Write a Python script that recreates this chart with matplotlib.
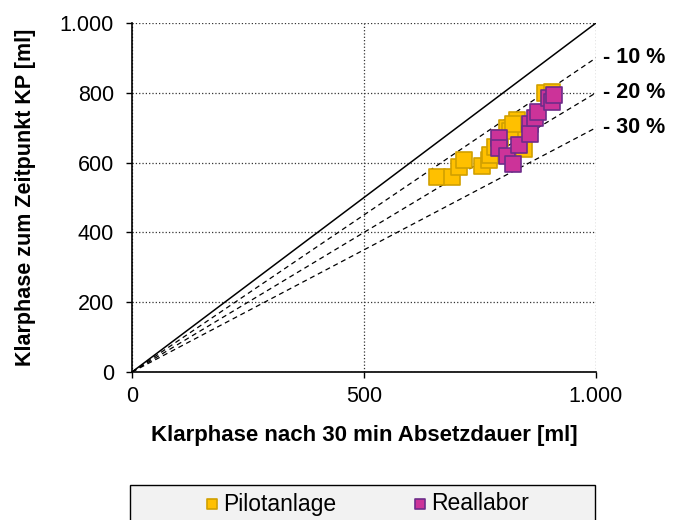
import numpy as np
import matplotlib.pyplot as plt
from matplotlib.patches import Rectangle

plt.rcParams['font.family'] = ['Liberation Sans', 'DejaVu Sans']

# Pilotanlage (x: Klarphase nach 30 min, y: Klarphase zum Zeitpunkt KP)
pilot_x = [657, 689, 704, 715, 754, 769, 771, 783, 794, 808, 830, 833, 837, 837,
           815, 822, 845, 891, 905]
pilot_y = [560, 560, 587, 607, 590, 607, 622, 646, 670, 698, 722, 703, 655, 679,
           690, 710, 640, 799, 803]

# Reallabor
real_x = [790, 790, 809, 821, 835, 858, 858, 869, 876, 898, 905, 909]
real_y = [670, 641, 619, 595, 649, 712, 682, 727, 744, 784, 775, 794]

ref_factors = [0.9, 0.8, 0.7]
ref_labels = ["- 10 %", "- 20 %", "- 30 %"]

fig = plt.figure(figsize=(6.78, 5.2), dpi=100)
ax = fig.add_axes([132 / 678, 148 / 520, 464 / 678, 349 / 520])

xs = np.array([0, 1000])
ax.plot(xs, xs, color='black', lw=1.1, zorder=2)
for f, lab in zip(ref_factors, ref_labels):
    ax.plot(xs, f * xs, color='black', lw=0.9, ls=(0, (4, 3)), zorder=2)
    ax.annotate(lab, xy=(1000, f * 1000), xytext=(5, 0), textcoords='offset points',
                ha='left', va='center', fontsize=15.5, fontweight='bold',
                annotation_clip=False)

ax.scatter(pilot_x, pilot_y, marker='s', s=125, facecolor='#FFC000',
           edgecolor='#D1A000', linewidth=1.2, zorder=3, label='Pilotanlage')
ax.scatter(real_x, real_y, marker='s', s=125, facecolor='#CC3399',
           edgecolor='#6E2C8A', linewidth=1.2, zorder=4, label='Reallabor')

ax.set_xlim(0, 1000)
ax.set_ylim(0, 1000)
ax.set_xticks([0, 500, 1000])
ax.set_xticklabels(['0', '500', '1.000'])
ax.set_yticks([0, 200, 400, 600, 800, 1000])
ax.set_yticklabels(['0', '200', '400', '600', '800', '1.000'])
ax.tick_params(labelsize=15.5, direction='out', length=4, width=1, color='black')
ax.tick_params(axis='y', pad=9)
ax.tick_params(axis='x', pad=6)
ax.grid(True, ls=':', color='#333333', lw=0.9)
ax.set_axisbelow(True)
for s in ['top', 'right']:
    ax.spines[s].set_visible(False)
for s in ['left', 'bottom']:
    ax.spines[s].set_linewidth(1.2)

ax.set_xlabel('Klarphase nach 30 min Absetzdauer [ml]', fontsize=16,
              fontweight='bold', labelpad=13)
ax.set_ylabel('Klarphase zum Zeitpunkt KP [ml]', fontsize=15.5,
              fontweight='bold', labelpad=17)

# legend box at the bottom
fig.patches.append(Rectangle((130 / 678, -0.05), 465 / 678, (520 - 485) / 520 + 0.05,
                             transform=fig.transFigure, facecolor='#F2F2F2',
                             edgecolor='black', lw=1))
h, l = ax.get_legend_handles_labels()
leg = fig.legend(h, l, loc='center', bbox_to_anchor=(366 / 678, (520 - 504) / 520),
                 ncol=2, frameon=False, fontsize=16.5, markerscale=0.62,
                 handletextpad=0.1, columnspacing=3.3, handlelength=0.75)

fig.savefig('out.png', dpi=100)
